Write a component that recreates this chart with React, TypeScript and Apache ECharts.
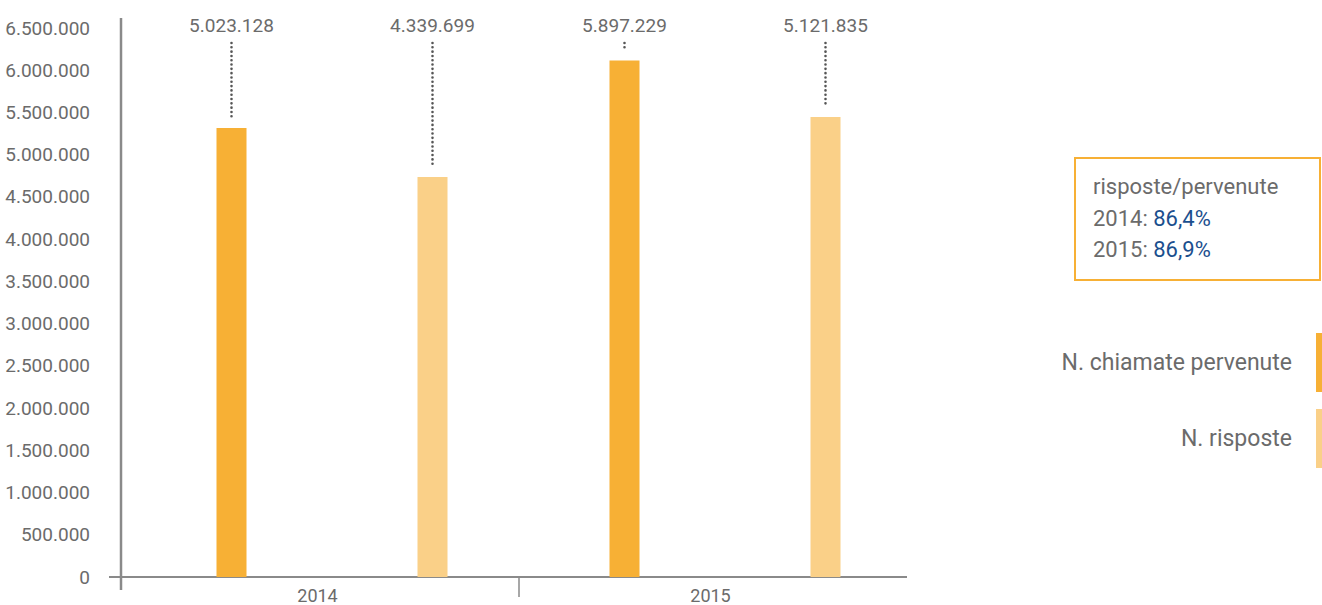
import React, { useEffect, useRef } from 'react';
import * as echarts from 'echarts';

const categories = ['2014', '2015'];
const pervenute = [5315000, 6115000];
const risposte = [4735000, 5445000];
const pervenuteLabels = ['5.023.128', '5.897.229'];
const risposteLabels = ['4.339.699', '5.121.835'];
const yMax = 6500000;
const yInterval = 500000;
const ratioTitle = 'risposte/pervenute';
const ratioYears = ['2014', '2015'];
const ratioValues = ['86,4%', '86,9%'];
const legendNames = ['N. chiamate pervenute', 'N. risposte'];

const W = 1322;
const H = 605;
const GRID_LEFT = 121;
const GRID_RIGHT_X = 907;
const GRID_TOP = 28;
const GRID_BOTTOM_Y = 577;
const DARK = '#F7B035';
const LIGHT = '#FAD088';
const TEXT = '#6b6b6b';
const AXIS = '#8a8a8a';
const BLUE = '#1b4f8e';
const FONT = 'Roboto, "Open Sans", sans-serif';

const fmt = (v: number) => String(v).replace(/\B(?=(\d{3})+(?!\d))/g, '.');

function makeRender(offset: number, color: string, labels: string[]) {
  return (params: any, api: any) => {
    const cat = api.value(0);
    const val = api.value(1);
    const top = api.coord([cat, val]);
    const base = api.coord([cat, 0]);
    const ceil = api.coord([cat, yMax]);
    const cx = top[0] + offset;
    return {
      type: 'group',
      children: [
        {
          type: 'rect',
          shape: { x: cx - 15, y: top[1], width: 30, height: base[1] - top[1] },
          style: { fill: color },
        },
        {
          type: 'line',
          shape: { x1: cx, y1: ceil[1] + 15, x2: cx, y2: top[1] - 11 },
          style: { stroke: '#555555', lineWidth: 2.6, lineDash: [0.01, 4.3], lineCap: 'round' },
        },
        {
          type: 'text',
          x: cx,
          y: ceil[1] - 3,
          style: {
            text: labels[params.dataIndex],
            fill: TEXT,
            fontSize: 19,
            fontFamily: FONT,
            align: 'center',
            verticalAlign: 'middle',
          },
        },
      ],
    };
  };
}

export default function App() {
  const ref = useRef<HTMLDivElement>(null);
  useEffect(() => {
    if (!ref.current) return;
    const chart = echarts.init(ref.current, undefined, { renderer: 'svg' });
    const midX = GRID_LEFT + (GRID_RIGHT_X - GRID_LEFT) / 2 + 5;
    const option: any = {
      animation: false,
      grid: {
        left: GRID_LEFT,
        right: W - GRID_RIGHT_X,
        top: GRID_TOP,
        bottom: H - GRID_BOTTOM_Y,
        containLabel: false,
      },
      xAxis: {
        type: 'category',
        data: categories,
        axisLine: { show: false },
        axisTick: { show: false },
        axisLabel: { color: TEXT, fontSize: 18, fontFamily: FONT, margin: 9 },
        splitLine: { show: false },
      },
      yAxis: {
        type: 'value',
        min: 0,
        max: yMax,
        interval: yInterval,
        axisLine: { show: false },
        axisTick: { show: false },
        splitLine: { show: false },
        axisLabel: {
          color: TEXT,
          fontSize: 19,
          fontFamily: FONT,
          margin: 31,
          formatter: (v: number) => fmt(v),
        },
      },
      series: [
        {
          type: 'custom',
          name: legendNames[0],
          clip: false,
          encode: { x: 0, y: 1 },
          data: pervenute.map((v, i) => [i, v]),
          renderItem: makeRender(-86, DARK, pervenuteLabels),
        },
        {
          type: 'custom',
          name: legendNames[1],
          clip: false,
          encode: { x: 0, y: 1 },
          data: risposte.map((v, i) => [i, v]),
          renderItem: makeRender(115, LIGHT, risposteLabels),
        },
      ],
      graphic: [
        { type: 'line', shape: { x1: GRID_LEFT, y1: 18, x2: GRID_LEFT, y2: 590 }, style: { stroke: AXIS, lineWidth: 2.5 } },
        { type: 'line', shape: { x1: 109, y1: GRID_BOTTOM_Y, x2: GRID_RIGHT_X, y2: GRID_BOTTOM_Y }, style: { stroke: AXIS, lineWidth: 2 } },
        { type: 'line', shape: { x1: midX, y1: GRID_BOTTOM_Y, x2: midX, y2: 597 }, style: { stroke: AXIS, lineWidth: 1.5 } },
        { type: 'rect', shape: { x: 1075, y: 158, width: 245, height: 122 }, style: { fill: 'none', stroke: DARK, lineWidth: 2 } },
        {
          type: 'text', left: 1093, top: 175,
          style: { text: ratioTitle, fill: TEXT, fontSize: 22, fontFamily: FONT },
        },
        ...ratioYears.map((y, i) => ({
          type: 'text', left: 1093, top: 207 + i * 31,
          style: {
            text: `{a|${y}: }{b|${ratioValues[i]}}`,
            rich: {
              a: { fill: TEXT, color: TEXT, fontSize: 22, fontFamily: FONT },
              b: { fill: BLUE, color: BLUE, fontSize: 22, fontFamily: FONT },
            },
          },
        })),
        {
          type: 'text', x: 1292, y: 362,
          style: { text: legendNames[0], fill: TEXT, fontSize: 23, fontFamily: FONT, align: 'right', verticalAlign: 'middle' },
        },
        { type: 'rect', shape: { x: 1316, y: 333, width: 6, height: 59 }, style: { fill: DARK } },
        {
          type: 'text', x: 1292, y: 438,
          style: { text: legendNames[1], fill: TEXT, fontSize: 23, fontFamily: FONT, align: 'right', verticalAlign: 'middle' },
        },
        { type: 'rect', shape: { x: 1316, y: 409, width: 6, height: 59 }, style: { fill: LIGHT } },
      ],
    };
    chart.setOption(option);
    return () => chart.dispose();
  }, []);
  return (
    <div
      ref={ref}
      style={{ position: 'fixed', left: 0, top: 0, width: W, height: H, background: '#fff' }}
    />
  );
}
